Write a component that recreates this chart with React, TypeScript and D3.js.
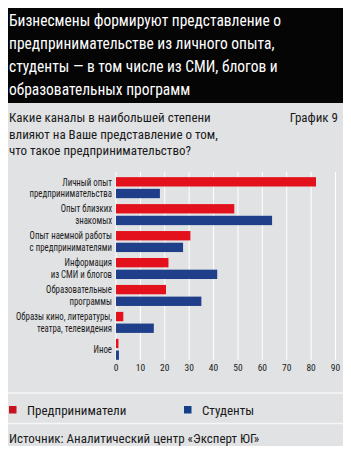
import React, { useEffect, useRef } from "react";
import * as d3 from "d3";

const categories = [
  ["Личный опыт", "предпринимательства"],
  ["Опыт близких", "знакомых"],
  ["Опыт наемной работы", "с предпринимателями"],
  ["Информация", "из СМИ и блогов"],
  ["Образовательные", "программы"],
  ["Образы кино, литературы,", "театра, телевидения"],
  ["Иное"],
];
const entrepreneurs = [82, 48.5, 30.5, 21.5, 20.5, 3, 1];
const students = [18, 64, 27.5, 41.5, 35, 15.5, 1.2];
const ticks = [0, 10, 20, 30, 40, 50, 60, 70, 80, 90];

const titleLines = [
  "Бизнесмены формируют представление о",
  "предпринимательстве из личного опыта,",
  "студенты — в том числе из СМИ, блогов и",
  "образовательных программ",
];
const questionLines = [
  "Какие каналы в наибольшей степени",
  "влияют на Ваше представление о том,",
  "что такое предпринимательство?",
];

const FONT = "'Roboto Condensed', 'Liberation Sans Narrow', 'DejaVu Sans Condensed', 'Arial Narrow', sans-serif";
const RED = "#e3111b";
const BLUE = "#1f3f8a";
const BG = "#e1e2e4";

export default function App() {
  const ref = useRef<SVGSVGElement>(null);

  useEffect(() => {
    if (!ref.current) return;
    const svg = d3.select(ref.current);
    svg.selectAll("*").remove();
    const width = 351;
    const height = 454;

    svg.append("rect").attr("width", width).attr("height", height).attr("fill", BG);
    svg.append("rect").attr("width", width).attr("height", 103).attr("fill", "#050505");

    // title (condensed a bit more to match the original face)
    svg
      .append("g")
      .selectAll("text")
      .data(titleLines)
      .enter()
      .append("text")
      .attr("transform", (d, i) => `translate(9,${26 + i * 23}) scale(0.91,1)`)
      .attr("fill", "#fff")
      .style("font-family", FONT)
      .style("font-size", "17px")
      .text((d) => d);

    svg
      .append("g")
      .selectAll("text")
      .data(questionLines)
      .enter()
      .append("text")
      .attr("x", 9)
      .attr("y", (d, i) => 122 + i * 16.5)
      .attr("fill", "#1a1a1a")
      .style("font-family", FONT)
      .style("font-size", "13px")
      .text((d) => d);

    svg
      .append("text")
      .attr("x", 338)
      .attr("y", 122)
      .attr("text-anchor", "end")
      .attr("fill", "#1a1a1a")
      .style("font-family", FONT)
      .style("font-size", "13px")
      .text("График 9");

    // chart
    const x = d3.scaleLinear().domain([0, 90]).range([116, 335.5]);
    const y0 = d3
      .scaleBand<number>()
      .domain(d3.range(categories.length))
      .range([175, 362])
      .paddingInner(0.22)
      .paddingOuter(0.08);
    const y1 = d3
      .scaleBand<string>()
      .domain(["e", "s"])
      .range([0, y0.bandwidth()])
      .paddingInner(0.2);

    const g = svg.append("g");
    g.selectAll("line.grid")
      .data(ticks)
      .enter()
      .append("line")
      .attr("class", "grid")
      .attr("x1", (d) => x(d))
      .attr("x2", (d) => x(d))
      .attr("y1", 172)
      .attr("y2", 360)
      .attr("stroke", "#fff")
      .attr("stroke-width", 1);

    const groups = g
      .selectAll("g.grp")
      .data(categories.map((c, i) => ({ c, i })))
      .enter()
      .append("g")
      .attr("class", "grp")
      .attr("transform", (d) => `translate(0,${y0(d.i)})`);

    groups
      .append("rect")
      .attr("x", x(0))
      .attr("y", y1("e")!)
      .attr("height", y1.bandwidth())
      .attr("width", (d) => x(entrepreneurs[d.i]) - x(0))
      .attr("fill", RED);
    groups
      .append("rect")
      .attr("x", x(0))
      .attr("y", y1("s")!)
      .attr("height", y1.bandwidth())
      .attr("width", (d) => x(students[d.i]) - x(0))
      .attr("fill", BLUE);

    groups.each(function (d) {
      const sel = d3.select(this);
      const lines = d.c;
      const bw = y0.bandwidth();
      const centers =
        lines.length === 2
          ? [y1("e")! + y1.bandwidth() / 2, y1("s")! + y1.bandwidth() / 2]
          : [bw / 2];
      lines.forEach((t, k) => {
        sel
          .append("text")
          .attr("transform", `translate(112,${centers[k]}) scale(0.84,1)`)
          .attr("dy", "0.35em")
          .attr("text-anchor", "end")
          .attr("fill", "#1a1a1a")
          .style("font-family", FONT)
          .style("font-size", "10.5px")
          .text(t);
      });
    });

    g.selectAll("text.tick")
      .data(ticks)
      .enter()
      .append("text")
      .attr("class", "tick")
      .attr("x", (d) => x(d))
      .attr("y", 371)
      .attr("text-anchor", "middle")
      .attr("fill", "#1a1a1a")
      .style("font-family", FONT)
      .style("font-size", "9.5px")
      .text((d) => d);

    // separators
    [393, 423.5, 447].forEach((yy) => {
      svg
        .append("line")
        .attr("x1", 0)
        .attr("x2", width)
        .attr("y1", yy)
        .attr("y2", yy)
        .attr("stroke", "#f6f6f6")
        .attr("stroke-width", 1.5);
    });

    // legend
    const legend = [
      { label: "Предприниматели", color: "#c8101e", x: 9 },
      { label: "Студенты", color: "#133f86", x: 184 },
    ];
    const lg = svg.append("g");
    legend.forEach((l) => {
      lg.append("rect")
        .attr("x", l.x)
        .attr("y", 406)
        .attr("width", 7.5)
        .attr("height", 7.5)
        .attr("fill", l.color);
      lg.append("text")
        .attr("x", l.x + 18)
        .attr("y", 414.5)
        .attr("fill", "#1a1a1a")
        .style("font-family", FONT)
        .style("font-size", "13px")
        .text(l.label);
    });

    svg
      .append("text")
      .attr("x", 9)
      .attr("y", 442.5)
      .attr("fill", "#1a1a1a")
      .style("font-family", FONT)
      .style("font-size", "13px")
      .text("Источник: Аналитический центр «Эксперт ЮГ»");
  }, []);

  return (
    <div style={{ margin: -8 }}>
      <svg ref={ref} width={351} height={454} style={{ display: "block" }} />
    </div>
  );
}
